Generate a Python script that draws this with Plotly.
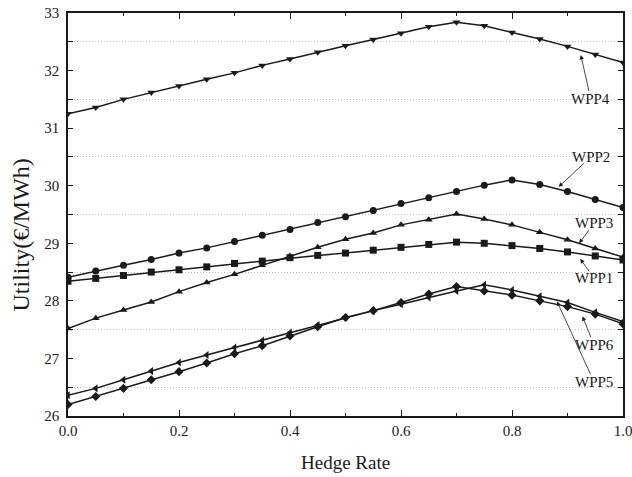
import plotly.graph_objects as go

hedge_rate = [0.0, 0.05, 0.1, 0.15, 0.2, 0.25, 0.3, 0.35, 0.4, 0.45, 0.5,
              0.55, 0.6, 0.65, 0.7, 0.75, 0.8, 0.85, 0.9, 0.95, 1.0]

wpp1 = [28.34, 28.39, 28.44, 28.50, 28.54, 28.59, 28.65, 28.69, 28.75, 28.79, 28.83,
        28.88, 28.93, 28.98, 29.02, 29.00, 28.96, 28.91, 28.85, 28.78, 28.71]
wpp2 = [28.41, 28.52, 28.62, 28.72, 28.83, 28.92, 29.03, 29.14, 29.24, 29.36, 29.46,
        29.57, 29.69, 29.79, 29.90, 30.01, 30.10, 30.02, 29.90, 29.76, 29.62]
wpp3 = [27.52, 27.70, 27.84, 27.98, 28.16, 28.32, 28.46, 28.62, 28.78, 28.93, 29.07,
        29.18, 29.32, 29.41, 29.51, 29.42, 29.32, 29.19, 29.06, 28.91, 28.76]
wpp4 = [31.25, 31.36, 31.50, 31.62, 31.73, 31.85, 31.96, 32.09, 32.20, 32.32, 32.43,
        32.54, 32.65, 32.76, 32.84, 32.78, 32.66, 32.55, 32.42, 32.28, 32.14]
wpp5 = [26.20, 26.34, 26.48, 26.63, 26.77, 26.92, 27.08, 27.22, 27.39, 27.55, 27.71,
        27.83, 27.97, 28.12, 28.25, 28.17, 28.10, 28.00, 27.90, 27.77, 27.60]
wpp6 = [26.36, 26.48, 26.63, 26.78, 26.93, 27.06, 27.19, 27.31, 27.45, 27.58, 27.71,
        27.83, 27.94, 28.06, 28.17, 28.28, 28.19, 28.08, 27.97, 27.80, 27.64]

series = [
    ("WPP1", wpp1, "square"),
    ("WPP2", wpp2, "circle"),
    ("WPP3", wpp3, "triangle-up"),
    ("WPP4", wpp4, "triangle-down"),
    ("WPP5", wpp5, "diamond"),
    ("WPP6", wpp6, "triangle-left"),
]

# label text position (x, y in data units) and arrow head position (x, y)
labels = [
    ("WPP4", 0.942, 31.50, 0.924, 32.27),
    ("WPP2", 0.942, 30.50, 0.884, 29.98),
    ("WPP3", 0.948, 29.35, 0.921, 29.00),
    ("WPP1", 0.948, 28.39, 0.923, 28.73),
    ("WPP6", 0.948, 27.23, 0.927, 27.73),
    ("WPP5", 0.948, 26.59, 0.881, 27.99),
]

FONT = "Liberation Serif, Times New Roman, serif"
INK = "#1a1a1a"

fig = go.Figure()
for name, ys, sym in series:
    fig.add_trace(go.Scatter(
        x=hedge_rate, y=ys, name=name, mode="lines+markers",
        line=dict(color=INK, width=1.5),
        marker=dict(symbol=sym, size=7, color=INK),
        showlegend=False,
    ))

for text, tx, ty, ax_, ay_ in labels:
    fig.add_annotation(
        x=ax_, y=ay_, xref="x", yref="y",
        ax=tx, ay=ty, axref="x", ayref="y",
        text="", showarrow=True, arrowhead=2, arrowsize=1.1,
        arrowwidth=0.8, arrowcolor=INK, standoff=0, startstandoff=7,
    )
    fig.add_annotation(
        x=tx, y=ty, xref="x", yref="y", text=text, showarrow=False,
        font=dict(family=FONT, size=15, color=INK),
    )

# axis titles
fig.add_annotation(x=0.5, y=-0.115, xref="paper", yref="paper", text="Hedge Rate",
                   showarrow=False, xanchor="center", yanchor="middle",
                   font=dict(family=FONT, size=19, color=INK))
fig.add_annotation(x=-0.085, y=0.45, xref="paper", yref="paper", text="Utility(€/MWh)",
                   showarrow=False, textangle=-90, xanchor="center", yanchor="middle",
                   font=dict(family=FONT, size=24, color=INK))

fig.update_layout(
    width=632, height=477,
    margin=dict(l=68, r=9, t=13, b=61),
    paper_bgcolor="white", plot_bgcolor="white",
    font=dict(family=FONT, size=15, color=INK),
)
fig.update_xaxes(
    range=[0, 1], tickmode="linear", tick0=0, dtick=0.2, tickformat=".1f",
    ticks="inside", ticklen=6, tickwidth=1.2, tickcolor=INK,
    minor=dict(dtick=0.1, ticks="inside", ticklen=3, tickcolor=INK),
    showline=True, linecolor=INK, linewidth=1.5, mirror="allticks",
    showgrid=False, zeroline=False, automargin=False,
    ticklabeloverflow="allow",
    tickfont=dict(family=FONT, size=15),
)
fig.update_yaxes(
    range=[26, 33], tickmode="linear", tick0=26, dtick=1,
    ticks="inside", ticklen=5, tickwidth=1.2, tickcolor=INK,
    minor=dict(dtick=0.5, ticks="inside", ticklen=5, tickcolor=INK,
               showgrid=True, gridcolor="#c4c4c4", griddash="1px,2px", gridwidth=1),
    showline=True, linecolor=INK, linewidth=1.5, mirror="allticks",
    showgrid=False, zeroline=False, automargin=False,
    ticklabeloverflow="allow",
    tickfont=dict(family=FONT, size=15), ticklabelstandoff=4,
)

fig.write_html("out.html")
